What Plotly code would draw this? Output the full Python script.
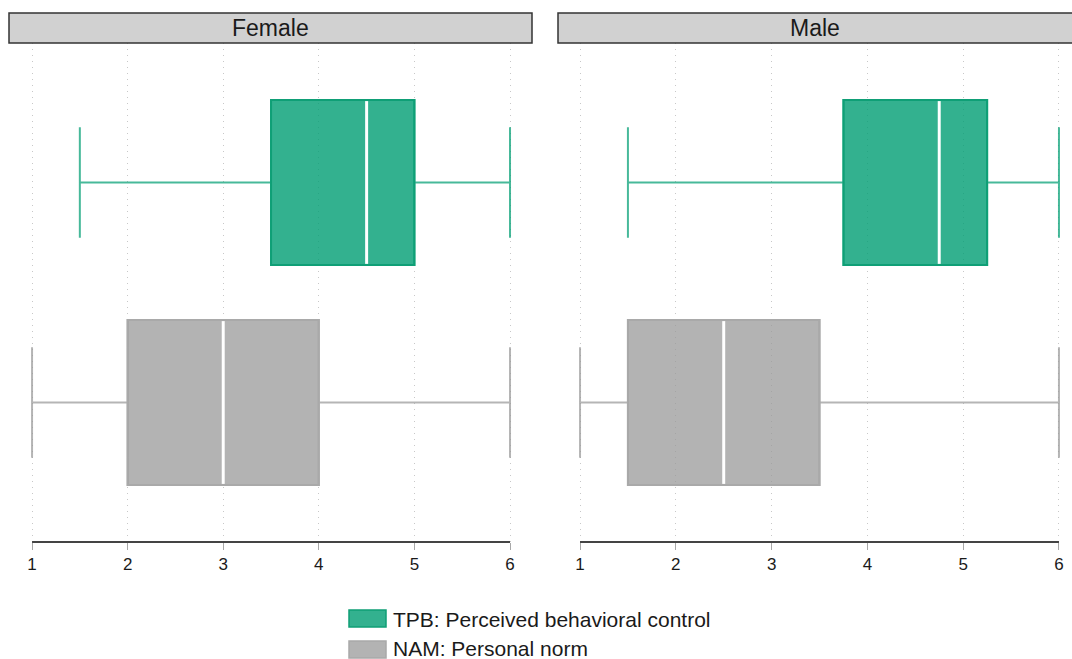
import plotly.graph_objects as go

# ---- data ----
panels = ["Female", "Male"]
measures = ["NAM: Personal norm", "TPB: Perceived behavioral control"]
measure_pos = [1, 2]
# stats per panel, per measure: [lower whisker, q1, median, q3, upper whisker]
lower = {"Female": [1.0, 1.5], "Male": [1.0, 1.5]}
q1 = {"Female": [2.0, 3.5], "Male": [1.5, 3.75]}
median = {"Female": [3.0, 4.5], "Male": [2.5, 4.75]}
q3 = {"Female": [4.0, 5.0], "Male": [3.5, 5.25]}
upper = {"Female": [6.0, 6.0], "Male": [6.0, 6.0]}
tick_vals = [1, 2, 3, 4, 5, 6]

# ---- styles ----
fill_col = ["rgba(153,153,153,0.75)", "rgba(0,158,115,0.8)"]
edge_col = ["#a9a9a9", "#0f9f76"]
whisk_col = ["rgba(153,153,153,0.72)", "rgba(0,158,115,0.72)"]
BOXW = 0.75
FONT = "Liberation Sans, Arial, sans-serif"

fig = go.Figure()
axes = [("x", "y"), ("x2", "y2")]
for pi, panel in enumerate(panels):
    xa, ya = axes[pi]
    for mi, m in enumerate(measures):
        pos = measure_pos[mi]
        # whiskers with caps
        fig.add_trace(go.Box(
            orientation="h", y=[pos], q1=[q1[panel][mi]], median=[median[panel][mi]],
            q3=[q3[panel][mi]], lowerfence=[lower[panel][mi]], upperfence=[upper[panel][mi]],
            width=BOXW, whiskerwidth=0.67, fillcolor="rgba(0,0,0,0)",
            line=dict(color=whisk_col[mi], width=2), showlegend=False,
            xaxis=xa, yaxis=ya, hoverinfo="skip"))
        # box body
        fig.add_trace(go.Box(
            orientation="h", y=[pos], q1=[q1[panel][mi]], median=[median[panel][mi]],
            q3=[q3[panel][mi]], lowerfence=[q1[panel][mi]], upperfence=[q3[panel][mi]],
            width=BOXW, whiskerwidth=0, fillcolor=fill_col[mi],
            line=dict(color=edge_col[mi], width=2), showlegend=False,
            xaxis=xa, yaxis=ya, hoverinfo="skip"))
        # white median
        md = median[panel][mi]
        fig.add_trace(go.Scatter(
            x=[md, md], y=[pos - BOXW / 2 + 0.005, pos + BOXW / 2 - 0.005], mode="lines",
            line=dict(color="white", width=3), showlegend=False,
            xaxis=xa, yaxis=ya, hoverinfo="skip"))

W, H = 1072, 659
ml, mr, mt, mb = 9, 0, 43, 117
pw, ph = W - ml - mr, H - mt - mb

def px_x(p):
    return (p - ml) / pw

def px_y(p):
    return (H - mb - p) / ph

xcommon = dict(tickvals=tick_vals, showgrid=True, gridcolor="#c8c8c8", griddash="1px,5px",
               gridwidth=1, zeroline=False, showline=False, ticks="outside", ticklen=7,
               tickcolor="#a8a8a8", tickwidth=1,
               tickfont=dict(size=17, color="#1a1a1a", family=FONT))
ycommon = dict(range=[0.366, 2.634], showgrid=False, zeroline=False, showticklabels=False,
               showline=False, ticks="")

fig.update_layout(
    width=W, height=H, margin=dict(l=ml, r=mr, t=mt, b=mb),
    paper_bgcolor="white", plot_bgcolor="white",
    font=dict(family=FONT, color="#1a1a1a"),
    xaxis=dict(domain=[0, px_x(532)], range=[0.759, 6.23], anchor="y", **xcommon),
    xaxis2=dict(domain=[px_x(558), 1], range=[0.770, 6.136], anchor="y2", **xcommon),
    yaxis=dict(anchor="x", **ycommon),
    yaxis2=dict(anchor="x2", **ycommon),
    showlegend=False,
)

shapes = []
annotations = []
strips = [(px_x(9), px_x(532)), (px_x(558), px_x(1075))]
for pi, panel in enumerate(panels):
    x0, x1 = strips[pi]
    shapes.append(dict(type="rect", xref="paper", yref="paper", x0=x0, x1=x1,
                       y0=px_y(43), y1=px_y(13), fillcolor="#d1d1d1",
                       line=dict(color="#333333", width=1.5), layer="above"))
    cx = (px_x(9) + px_x(532)) / 2 if pi == 0 else (px_x(558) + px_x(1072)) / 2
    annotations.append(dict(text=panel, xref="paper", yref="paper", x=cx, y=px_y(28),
                            showarrow=False, font=dict(size=23, color="#1a1a1a", family=FONT),
                            xanchor="center", yanchor="middle"))
    xa, ya = axes[pi]
    shapes.append(dict(type="line", xref=xa, yref=ya + " domain", x0=tick_vals[0],
                       x1=tick_vals[-1], y0=0, y1=0, line=dict(color="#444444", width=2),
                       layer="above"))

# legend (custom)
legend_order = [1, 0]
text_centers = [619, 648]
for k, mi in enumerate(legend_order):
    top = 610 + k * 31
    shapes.append(dict(type="rect", xref="paper", yref="paper", x0=px_x(349), x1=px_x(386),
                       y0=px_y(top + 17), y1=px_y(top), fillcolor=fill_col[mi],
                       line=dict(color=edge_col[mi], width=1.5)))
    annotations.append(dict(text=measures[mi], xref="paper", yref="paper", x=px_x(391),
                            y=px_y(text_centers[k]), xanchor="left", yanchor="middle",
                            showarrow=False, font=dict(size=21, color="#1a1a1a", family=FONT)))

fig.update_layout(shapes=shapes, annotations=annotations)
fig.write_html("out.html", config={"displayModeBar": False},
               post_script="document.body.style.margin='0';document.body.style.overflow='hidden';")
